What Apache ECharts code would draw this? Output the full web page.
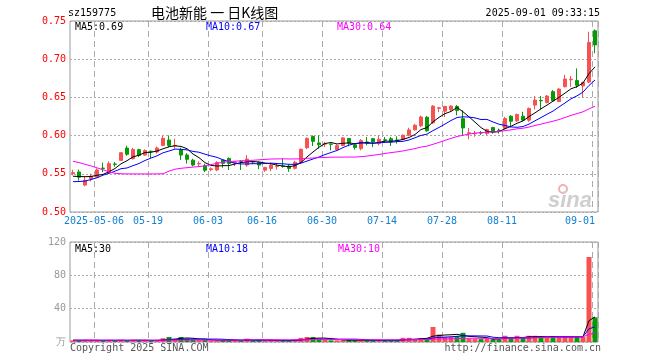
<!DOCTYPE html>
<html><head><meta charset="utf-8">
<script src="https://cdn.jsdelivr.net/npm/echarts@6/dist/echarts.min.js"></script>
<style>html,body{margin:0;padding:0;background:#fff}#c{width:660px;height:360px}</style>
</head><body><div id="c"></div>
<script>
const dates = [
 '2025-04-25','2025-04-28','2025-04-29','2025-04-30',
 '2025-05-06','2025-05-07','2025-05-08','2025-05-09','2025-05-12','2025-05-13','2025-05-14','2025-05-15','2025-05-16',
 '2025-05-19','2025-05-20','2025-05-21','2025-05-22','2025-05-23','2025-05-26','2025-05-27','2025-05-28','2025-05-29','2025-05-30',
 '2025-06-03','2025-06-04','2025-06-05','2025-06-06','2025-06-09','2025-06-10','2025-06-11','2025-06-12','2025-06-13',
 '2025-06-16','2025-06-17','2025-06-18','2025-06-19','2025-06-20','2025-06-23','2025-06-24','2025-06-25','2025-06-26','2025-06-27',
 '2025-06-30','2025-07-01','2025-07-02','2025-07-03','2025-07-04','2025-07-07','2025-07-08','2025-07-09','2025-07-10','2025-07-11',
 '2025-07-14','2025-07-15','2025-07-16','2025-07-17','2025-07-18','2025-07-21','2025-07-22','2025-07-23','2025-07-24','2025-07-25',
 '2025-07-28','2025-07-29','2025-07-30','2025-07-31','2025-08-01','2025-08-04','2025-08-05','2025-08-06','2025-08-07','2025-08-08',
 '2025-08-11','2025-08-12','2025-08-13','2025-08-14','2025-08-15','2025-08-18','2025-08-19','2025-08-20','2025-08-21','2025-08-22',
 '2025-08-25','2025-08-26','2025-08-27','2025-08-28','2025-08-29','2025-09-01'
];
const labelDays = ['2025-05-06','2025-05-19','2025-06-03','2025-06-16','2025-06-30','2025-07-14','2025-07-28','2025-08-11','2025-09-01'];

const opens = [0.5505,0.5524,0.5352,0.5435,0.5455,0.5575,0.5515,0.5628,0.5676,0.5837,
0.5698,0.5816,0.5745,0.5795,0.5785,0.5872,0.5942,0.5865,0.5812,0.5746,
0.5678,0.5630,0.5606,0.5555,0.5550,0.5680,0.5700,0.5645,0.5662,0.5614,
0.5660,0.5649,0.5548,0.5570,0.5594,0.5602,0.5601,0.5572,0.5645,0.5842,
0.5989,0.5904,0.5888,0.5890,0.5816,0.5870,0.5962,0.5880,0.5830,0.5917,
0.5960,0.5895,0.5945,0.5960,0.5942,0.5950,0.6006,0.6075,0.6128,0.6240,
0.6167,0.6357,0.6320,0.6338,0.6381,0.6222,0.6030,0.6024,0.6037,0.6026,
0.6105,0.6072,0.6092,0.6254,0.6193,0.6254,0.6202,0.6399,0.6461,0.6434,
0.6575,0.6445,0.6640,0.6730,0.6720,0.6650,0.6700,0.7372];
const closes = [0.5515,0.5455,0.5415,0.5468,0.5550,0.5570,0.5633,0.5625,0.5776,0.5756,
0.5818,0.5741,0.5804,0.5790,0.5837,0.5964,0.5872,0.5872,0.5745,0.5690,
0.5615,0.5634,0.5547,0.5565,0.5648,0.5637,0.5636,0.5655,0.5658,0.5693,
0.5656,0.5614,0.5583,0.5614,0.5598,0.5599,0.5570,0.5651,0.5820,0.5962,
0.5925,0.5880,0.5895,0.5886,0.5868,0.5970,0.5900,0.5845,0.5935,0.5900,
0.5917,0.5952,0.5940,0.5917,0.5938,0.6006,0.6074,0.6136,0.6244,0.6063,
0.6386,0.6364,0.6381,0.6386,0.6327,0.6100,0.6037,0.6029,0.6033,0.6079,
0.6048,0.6068,0.6224,0.6189,0.6276,0.6202,0.6355,0.6465,0.6456,0.6518,
0.6456,0.6610,0.6741,0.6738,0.6660,0.6695,0.7219,0.7187];
const lows = [0.5480,0.5410,0.5337,0.5400,0.5450,0.5522,0.5502,0.5592,0.5668,0.5736,
0.5687,0.5720,0.5738,0.5707,0.5763,0.5861,0.5850,0.5828,0.5682,0.5633,
0.5598,0.5590,0.5522,0.5533,0.5535,0.5580,0.5550,0.5600,0.5550,0.5592,
0.5625,0.5560,0.5526,0.5535,0.5555,0.5579,0.5526,0.5558,0.5634,0.5822,
0.5864,0.5829,0.5850,0.5807,0.5807,0.5860,0.5860,0.5816,0.5807,0.5873,
0.5850,0.5873,0.5904,0.5864,0.5895,0.5939,0.5991,0.6066,0.6110,0.6050,
0.6150,0.6307,0.6243,0.6316,0.6265,0.6002,0.5950,0.5985,0.6010,0.6005,
0.6026,0.6026,0.6079,0.6105,0.6180,0.6189,0.6180,0.6342,0.6342,0.6421,
0.6443,0.6440,0.6630,0.6638,0.6625,0.6505,0.6686,0.7078];
const highs = [0.5553,0.5555,0.5470,0.5502,0.5572,0.5645,0.5665,0.5655,0.5785,0.5867,
0.5840,0.5828,0.5820,0.5805,0.5858,0.6002,0.6002,0.5960,0.5840,0.5770,
0.5697,0.5663,0.5632,0.5585,0.5665,0.5690,0.5715,0.5665,0.5680,0.5745,
0.5670,0.5658,0.5592,0.5645,0.5640,0.5702,0.5627,0.5670,0.5831,0.5978,
0.6002,0.6002,0.5917,0.5895,0.5886,0.5982,0.5969,0.5895,0.5955,0.5982,
0.5969,0.6004,0.5982,0.5982,0.5991,0.6013,0.6103,0.6154,0.6260,0.6258,
0.6398,0.6375,0.6390,0.6397,0.6401,0.6331,0.6100,0.6060,0.6060,0.6090,
0.6115,0.6092,0.6246,0.6268,0.6289,0.6311,0.6368,0.6518,0.6518,0.6531,
0.6596,0.6618,0.6796,0.6780,0.6880,0.6706,0.7360,0.7390];
// volume, 万
const volumes = [2,1.5,2,1.5,2.5,1.5,2,1.5,2.5,2,2.5,2,1.5,1.5,2,
4.5,6,3.5,6,4,3,
2,2.5,1.5,2,2.5,2,1.5,2,
4,2,2.5,1.5,2,1.5,2,2,2.5,
5,6,6,4,
2.5,2,2,2,2.5,2,2,2,2,2.5,2,2,2,
5,5,3,
4.5,4.5,18,9,6,6,7,11,4,3.5,3.5,4,3.5,3,7.5,4.5,7.5,4.5,7.5,7.5,
5.5,6,5.5,6,7,6.5,6.5,6,102,29.6];

// moving-average values for days whose window starts before the shown range
const ma5Head = [0.5468,0.5465,0.5462,0.5465];
const ma10Head = [0.5397,0.5399,0.5405,0.5425,0.5448,0.5482,0.5506,0.5534,0.5567];
const ma30Head = [0.5664,0.5647,0.5625,0.5603,0.5578,0.5553,0.5527,0.5506,0.5500,0.5499,
0.5498,0.5498,0.5498,0.5498,0.5499,0.5500,0.5535,0.5560,0.5572,0.5580,
0.5588,0.5594,0.5604,0.5620,0.5638,0.5650,0.5660,0.5665,0.5670];
const vma5Head = [2,2,2,2];
const vma10Head = [2.1,2.1,2.1,2.1,2.1,2.1,2.1,2.1,2.1];
const vma30Head = [2.2,2.2,2.2,2.2,2.2,2.2,2.2,2.2,2.2,2.2,2.2,2.2,2.2,2.2,2.2,2.2,2.2,2.2,2.2,2.2,2.2,2.2,2.2,2.2,2.2,2.2,2.2,2.2,2.2];

function movingAvg(src, n, head) {
  return src.map((v, i) => {
    if (i < n - 1) return head[i];
    let s = 0; for (let k = i - n + 1; k <= i; k++) s += src[k];
    return s / n;
  });
}
const ma5 = movingAvg(closes, 5, ma5Head);
const ma10 = movingAvg(closes, 10, ma10Head);
const ma30 = movingAvg(closes, 30, ma30Head);
const vma5 = movingAvg(volumes, 5, vma5Head);
const vma10 = movingAvg(volumes, 10, vma10Head);
const vma30 = movingAvg(volumes, 30, vma30Head);

const RED = '#f65252', GREEN = '#069a06';
const MONO = 'DejaVu Sans Mono';
const labelIdx = labelDays.map(d => dates.indexOf(d));
const lastIdx = dates.length - 1;

const kData = opens.map((o, i) => [o, closes[i], lows[i], highs[i]]);
const volData = volumes.map((v, i) => ({ value: v, itemStyle: { color: closes[i] >= opens[i] ? RED : GREEN } }));

const chart = echarts.init(document.getElementById('c'), null, { renderer: 'canvas' });
const splitX = { show: true, interval: (i) => labelIdx.includes(i), lineStyle: { color: '#aaa', type: [6, 4], width: 1 } };
const lineSeries = (name, data, color, xi, yi) => ({
  name, type: 'line', data, xAxisIndex: xi, yAxisIndex: yi, symbol: 'none', silent: true,
  lineStyle: { color, width: 1 }, animation: false, z: 5
});
const txt = (text, x, y, fill, font, align) => ({
  type: 'text', x, y, silent: true,
  style: { text, fill, font, textAlign: align || 'left', textVerticalAlign: 'middle', align: align || 'left', verticalAlign: 'middle' }
});

chart.setOption({
  animation: false,
  backgroundColor: '#fff',
  grid: [
    { left: 70, top: 21, width: 528, height: 191, show: true, borderColor: '#999', borderWidth: 1, backgroundColor: 'transparent' },
    { left: 70, top: 242, width: 528, height: 100, show: true, borderColor: '#999', borderWidth: 1, backgroundColor: 'transparent' }
  ],
  xAxis: [
    { type: 'category', gridIndex: 0, data: dates, boundaryGap: true,
      axisLine: { show: false }, axisTick: { show: false }, splitLine: splitX,
      axisLabel: { interval: (i) => labelIdx.includes(i), margin: 4, color: '#1580d0', fontFamily: MONO, fontSize: 10,
        alignMaxLabel: 'right',
        formatter: (v, i) => {
          const t = v === '2025-05-06' ? v : v.slice(5);
          return (v === dates[lastIdx]) ? '{e|' + t + '}' : '{n|' + t + '}';
        },
        rich: { n: { padding: [0, 6, 0, 0], color: '#1580d0', fontFamily: MONO, fontSize: 10 },
                e: { color: '#1580d0', fontFamily: MONO, fontSize: 10 } } } },
    { type: 'category', gridIndex: 1, data: dates, boundaryGap: true,
      axisLine: { show: false }, axisTick: { show: false }, axisLabel: { show: false }, splitLine: splitX }
  ],
  yAxis: [
    { type: 'value', gridIndex: 0, min: 0.5, max: 0.75, interval: 0.05, scale: true,
      axisLine: { show: false }, axisTick: { show: false },
      axisLabel: { color: '#ff0000', fontFamily: MONO, fontSize: 10, margin: 4, formatter: (v) => v.toFixed(2) },
      splitLine: { show: true, lineStyle: { color: '#aaa', type: [2, 2], width: 1 } } },
    { type: 'value', gridIndex: 1, min: 0, max: 120, interval: 40,
      axisLine: { show: false }, axisTick: { show: false },
      axisLabel: { color: '#999', fontFamily: MONO, fontSize: 10, margin: 4, formatter: (v) => v === 0 ? '万' : String(v) },
      splitLine: { show: true, lineStyle: { color: '#aaa', type: [2, 2], width: 1 } } }
  ],
  series: [
    { type: 'candlestick', xAxisIndex: 0, yAxisIndex: 0, data: kData, barWidth: 4, silent: true,
      itemStyle: { color: RED, color0: GREEN, borderColor: RED, borderColor0: GREEN, borderWidth: 1 } },
    lineSeries('MA5', ma5, '#000', 0, 0),
    lineSeries('MA10', ma10, '#0000ff', 0, 0),
    lineSeries('MA30', ma30, '#ff00ff', 0, 0),
    { type: 'bar', xAxisIndex: 1, yAxisIndex: 1, data: volData, barWidth: 5, silent: true },
    lineSeries('VMA5', vma5, '#000', 1, 1),
    lineSeries('VMA10', vma10, '#0000ff', 1, 1),
    lineSeries('VMA30', vma30, '#ff00ff', 1, 1)
  ],
  graphic: [
    txt('sz159775', 68, 13, '#000', '10px "' + MONO + '"'),
    txt('电池新能 一 日K线图', 151, 13, '#000', '14px "Noto Sans CJK SC"'),
    txt('2025-09-01 09:33:15', 600, 13, '#000', '10px "' + MONO + '"', 'right'),
    txt('MA5:' + ma5[lastIdx].toFixed(2), 75, 27, '#000', '10px "' + MONO + '"'),
    txt('MA10:' + ma10[lastIdx].toFixed(2), 206, 27, '#0000ff', '10px "' + MONO + '"'),
    txt('MA30:' + ma30[lastIdx].toFixed(2), 337, 27, '#ff00ff', '10px "' + MONO + '"'),
    txt('MA5:' + vma5[lastIdx].toFixed(0), 75, 249, '#000', '10px "' + MONO + '"'),
    txt('MA10:' + vma10[lastIdx].toFixed(0), 206, 249, '#0000ff', '10px "' + MONO + '"'),
    txt('MA30:' + vma30[lastIdx].toFixed(0), 338, 249, '#ff00ff', '10px "' + MONO + '"'),
    txt('Copyright 2025 SINA.COM', 70, 348, '#555', '10px "' + MONO + '"'),
    txt('http://finance.sina.com.cn', 601, 348, '#555', '10px "' + MONO + '"', 'right'),
    { type: 'circle', shape: { cx: 563, cy: 189, r: 4 }, silent: true, style: { fill: 'none', stroke: '#f3b0b0', lineWidth: 2 } },
    txt('sina', 592, 201, '#cfcfcf', 'italic bold 22px "Liberation Sans"', 'right')
  ]
});
</script></body></html>
